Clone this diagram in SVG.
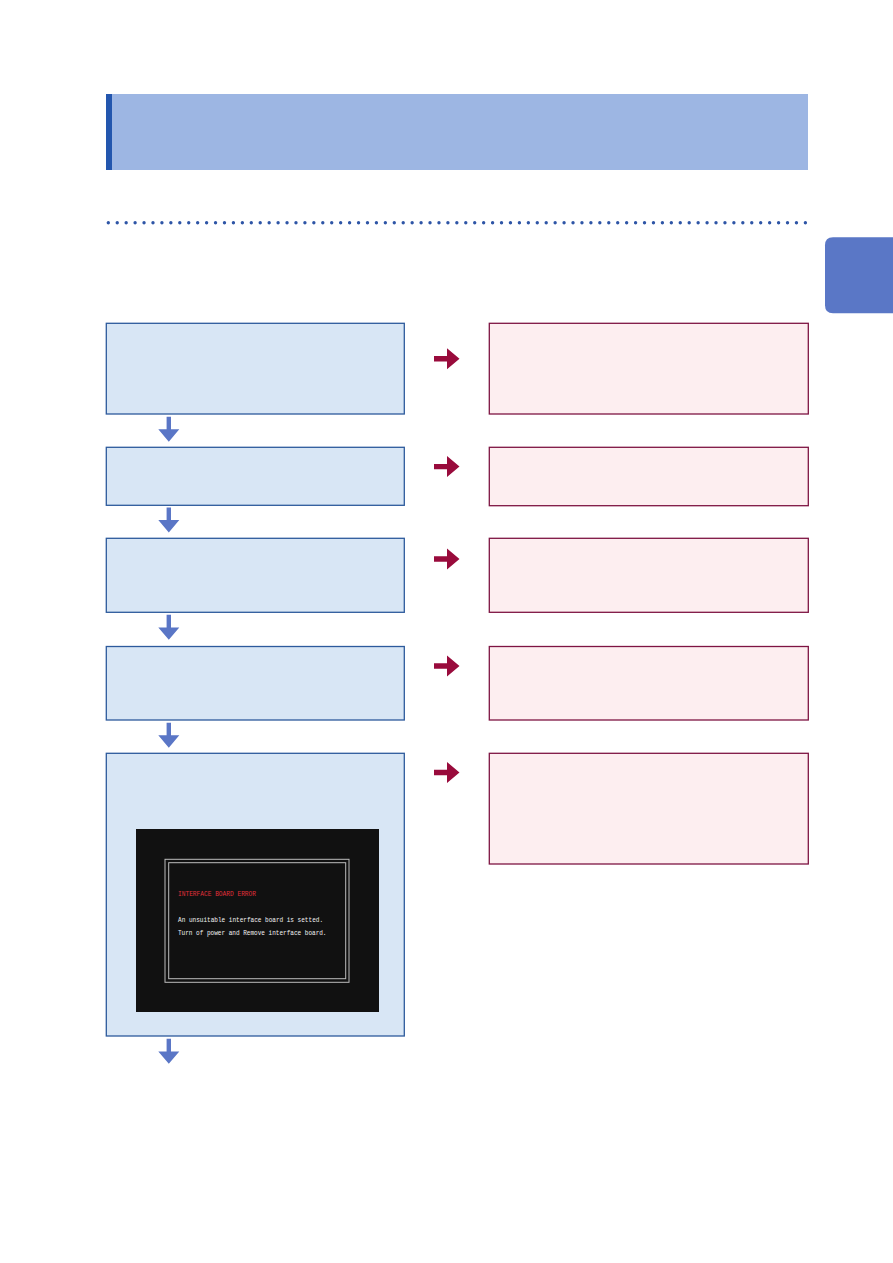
<svg xmlns="http://www.w3.org/2000/svg" xmlns:xlink="http://www.w3.org/1999/xlink" width="893" height="1263" viewBox="0 0 893 1263">
  <defs>
    <style>
      .step { fill: #D8E6F5; stroke: #2D5A9C; stroke-width: 1.3; }
      .result { fill: #FDEEF0; stroke: #7E1443; stroke-width: 1.3; }
      .down { fill: #5A76C6; }
      .right { fill: #990B3C; }
      .scr { font-family: "Liberation Mono", "DejaVu Sans Mono", monospace; font-size: 8px; }
    </style>
    <path id="arrowDown" d="M-2.2 0 H2.2 V12.6 H10.5 L0 25 L-10.5 12.6 H-2.2 Z"/>
    <path id="arrowRight" d="M0 -2.7 H13 V-10.5 L25.5 0 L13 10.5 V2.7 H0 Z"/>
  </defs>
  <rect width="893" height="1263" fill="#ffffff"/>

  <g id="header">
    <rect x="106" y="94" width="702" height="76" fill="#9DB6E3"/>
    <rect x="106" y="94" width="6" height="76" fill="#2356AE"/>
  </g>
  <g id="dotted-rule">
    <line x1="108.3" y1="222.7" x2="805.5" y2="222.7" stroke="#2E55A6" stroke-width="3.4" stroke-linecap="round" stroke-dasharray="0 8.937"/>
  </g>
  <g id="side-tab">
    <path d="M833 237.3 H900 V313.3 H833 Q825 313.3 825 305.3 V245.3 Q825 237.3 833 237.3 Z" fill="#5A77C6"/>
  </g>

  <g id="step1"><rect class="step" x="106.3" y="323.3" width="298" height="90.7"/></g>
  <g id="step2"><rect class="step" x="106.3" y="447.3" width="298" height="58"/></g>
  <g id="step3"><rect class="step" x="106.3" y="538.3" width="298" height="74"/></g>
  <g id="step4"><rect class="step" x="106.3" y="646.5" width="298" height="73.5"/></g>
  <g id="step5">
    <rect class="step" x="106.3" y="753.3" width="298" height="282.7"/>
    <g id="error-screen">
      <rect x="136" y="829" width="243" height="183" fill="#111111"/>
      <rect x="165" y="859.3" width="184" height="123" fill="none" stroke="#BDBDBD" stroke-width="1"/>
      <rect x="168.7" y="862.7" width="177" height="116" fill="none" stroke="#BDBDBD" stroke-width="1"/>
      <text class="scr" x="178" y="896" fill="#E0303A" textLength="78" lengthAdjust="spacingAndGlyphs">INTERFACE BOARD ERROR</text>
      <text class="scr" x="178" y="921.5" fill="#F2F2F2" textLength="145" lengthAdjust="spacingAndGlyphs">An unsuitable interface board is setted.</text>
      <text class="scr" x="178" y="935" fill="#F2F2F2" textLength="148.5" lengthAdjust="spacingAndGlyphs">Turn of power and Remove interface board.</text>
    </g>
  </g>

  <g id="result1"><rect class="result" x="489.3" y="323.3" width="319" height="90.7"/></g>
  <g id="result2"><rect class="result" x="489.3" y="447.3" width="319" height="58.4"/></g>
  <g id="result3"><rect class="result" x="489.3" y="538.3" width="319" height="74"/></g>
  <g id="result4"><rect class="result" x="489.3" y="646.5" width="319" height="73.5"/></g>
  <g id="result5"><rect class="result" x="489.3" y="753.3" width="319" height="110.7"/></g>

  <g id="connectors">
    <use href="#arrowDown" xlink:href="#arrowDown" class="down" x="168.8" y="416.7"/>
    <use href="#arrowDown" xlink:href="#arrowDown" class="down" x="168.8" y="507.5"/>
    <use href="#arrowDown" xlink:href="#arrowDown" class="down" x="168.8" y="614.8"/>
    <use href="#arrowDown" xlink:href="#arrowDown" class="down" x="168.8" y="722.7"/>
    <use href="#arrowDown" xlink:href="#arrowDown" class="down" x="168.8" y="1038.8"/>
    <use href="#arrowRight" xlink:href="#arrowRight" class="right" x="434" y="358.8"/>
    <use href="#arrowRight" xlink:href="#arrowRight" class="right" x="434" y="466.6"/>
    <use href="#arrowRight" xlink:href="#arrowRight" class="right" x="434" y="559"/>
    <use href="#arrowRight" xlink:href="#arrowRight" class="right" x="434" y="666"/>
    <use href="#arrowRight" xlink:href="#arrowRight" class="right" x="434" y="772.5"/>
  </g>
</svg>
